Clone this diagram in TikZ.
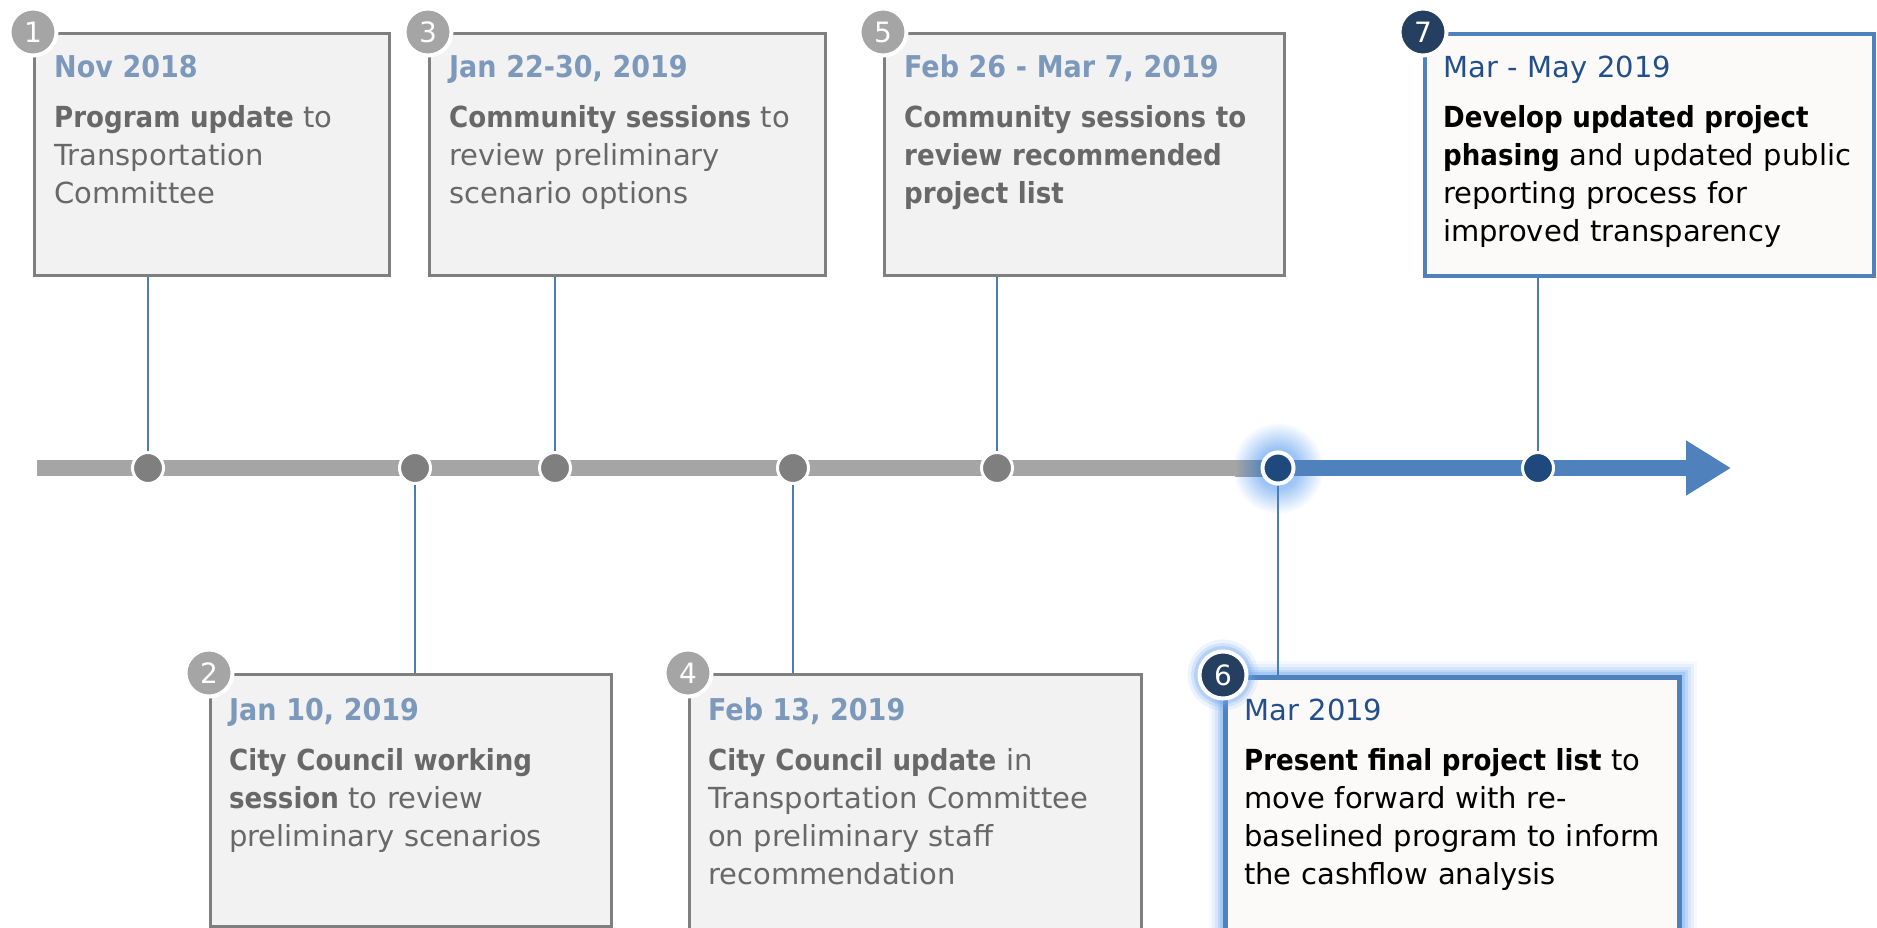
\documentclass[tikz,border=0pt]{standalone}
\usepackage{fontspec}
\setmainfont{DejaVu Sans}[BoldFont={DejaVu Sans Condensed Bold}]
\usetikzlibrary{arrows.meta}
\definecolor{tlgrey}{HTML}{A5A5A5}
\definecolor{dotgrey}{HTML}{7F7F7F}
\definecolor{boxfill}{HTML}{F2F2F2}
\definecolor{boxline}{HTML}{7F7F7F}
\definecolor{dategrey}{HTML}{7C98BB}
\definecolor{bodygrey}{HTML}{686868}
\definecolor{stemblue}{HTML}{4A7DBA}
\definecolor{tlblue}{HTML}{4F81BD}
\definecolor{dotnavy}{HTML}{1F497D}
\definecolor{badgenavy}{HTML}{243F60}
\definecolor{hotfill}{HTML}{FBFAF8}
\definecolor{glowblue}{HTML}{6FA8F0}
\definecolor{glowsoft}{HTML}{9CC4F5}
\definecolor{datenavy}{HTML}{23508C}
\newcommand{\greydate}[1]{{\fontsize{30}{38}\selectfont\bfseries\color{dategrey}#1}}
\newcommand{\navydate}[1]{{\fontsize{29}{38}\selectfont\color{datenavy}#1}}
\pgfdeclareradialshading{dotglow}{\pgfpoint{0bp}{0bp}}{color(0bp)=(glowsoft); color(11bp)=(glowsoft); color(25bp)=(white); color(50bp)=(white)}
\tikzset{
  evbox/.style={rectangle, anchor=north west, inner sep=0pt, fill=boxfill, draw=boxline, line width=3pt},
  newbox/.style={evbox, fill=hotfill, draw=tlblue, line width=3.5pt},
  hotbox/.style={newbox, line width=5pt,
    preaction={draw=glowblue, line width=34pt, draw opacity=.06},
    preaction={draw=glowblue, line width=28pt, draw opacity=.1},
    preaction={draw=glowblue, line width=22pt, draw opacity=.15},
    preaction={draw=glowblue, line width=16pt, draw opacity=.22},
    preaction={draw=glowblue, line width=11pt, draw opacity=.3}},
  badge/.style={circle, minimum size=47pt, inner sep=0pt, draw=white, line width=4pt, fill=tlgrey,
    text=white, font=\fontsize{28}{28}\selectfont},
  tick/.style={circle, minimum size=31pt, inner sep=0pt, draw=white, line width=3pt, fill=dotgrey},
  stem/.style={draw=stemblue, line width=2pt},
  evtext/.style={anchor=base west, inner sep=0pt, align=left, text=bodygrey, text width=500pt,
    font=\fontsize{29}{38}\selectfont}
}
\begin{document}
\begin{tikzpicture}[x=1pt, y=-1pt]
\useasboundingbox[fill=white] (0,0) rectangle (1877,927);
% timeline
\coordinate (tl0) at (37,468);
\coordinate (tl1) at (1245,468);
\coordinate (tl2) at (1731,468);
\coordinate (p6) at (1278,468);
\shade[shading=dotglow] (p6) circle (46);
\draw[line width=16pt, tlgrey] (tl0) -- (tl1);
\shade[left color=tlgrey, right color=tlblue] (1235,460) rectangle (1266,476);
\draw[line width=16pt, tlblue, -{Triangle[length=45pt,width=52pt]}] (1262,468) -- (tl2);
% boxes
\node[evbox, minimum width=355pt, minimum height=242pt] (b1) at (33,32) {};
\node[evbox, minimum width=396pt, minimum height=242pt] (b3) at (428,32) {};
\node[evbox, minimum width=400pt, minimum height=242pt] (b5) at (883,32) {};
\node[newbox, minimum width=449pt, minimum height=242pt] (b7) at (1423,32) {};
\node[evbox, minimum width=401pt, minimum height=252pt] (b2) at (209,673) {};
\node[evbox, minimum width=452pt, minimum height=262pt] (b4) at (688,673) {};
\node[hotbox, minimum width=454pt, minimum height=280pt] (b6) at (1223,675) {};
% dots
\node[tick] (d1) at (148,468) {};
\node[tick] (d2) at (415,468) {};
\node[tick] (d3) at (555,468) {};
\node[tick] (d4) at (793,468) {};
\node[tick] (d5) at (997,468) {};
\node[tick, fill=dotnavy, line width=4pt] (d6) at (p6) {};
\node[tick, fill=dotnavy] (d7) at (1538,468) {};
% stems
\draw[stem] (d1.north) -- (d1 |- b1.south);
\draw[stem] (d3.north) -- (d3 |- b3.south);
\draw[stem] (d5.north) -- (d5 |- b5.south);
\draw[stem] (d7.north) -- (d7 |- b7.south);
\draw[stem] (d2.south) -- (d2 |- b2.north);
\draw[stem] (d4.south) -- (d4 |- b4.north);
\draw[stem, line width=1.5pt] (d6.south) -- (d6 |- b6.north);
% badges
\node[badge] (n1) at (b1.north west) {1};
\node[badge] (n2) at (b2.north west) {2};
\node[badge] (n3) at (b3.north west) {3};
\node[badge] (n4) at (b4.north west) {4};
\node[badge] (n5) at (b5.north west) {5};
\node[badge, fill=badgenavy, preaction={draw=glowblue, line width=24pt, draw opacity=.12},
  preaction={draw=glowblue, line width=17pt, draw opacity=.2},
  preaction={draw=glowblue, line width=11pt, draw opacity=.3}] (n6) at (b6.north west) {6};
\node[badge, fill=badgenavy] (n7) at (b7.north west) {7};
% texts
\node[evtext] (t1) at ([shift={(21,45)}]b1.north west)
  {\greydate{Nov 2018}\\[12pt]\textbf{Program update} to\\Transportation\\Committee};
\node[evtext] (t3) at ([shift={(21,45)}]b3.north west)
  {\greydate{Jan 22-30, 2019}\\[12pt]\textbf{Community sessions} to\\review preliminary\\scenario options};
\node[evtext] (t5) at ([shift={(21,45)}]b5.north west)
  {\greydate{Feb 26 - Mar 7, 2019}\\[12pt]\textbf{Community sessions to}\\\textbf{review recommended}\\\textbf{project list}};
\node[evtext, text=black] (t7) at ([shift={(20,45)}]b7.north west)
  {\navydate{Mar - May 2019}\\[12pt]\textbf{Develop updated project}\\\textbf{phasing} and updated public\\reporting process for\\improved transparency};
\node[evtext] (t2) at ([shift={(20,47)}]b2.north west)
  {\greydate{Jan 10, 2019}\\[12pt]\textbf{City Council working}\\\textbf{session} to review\\preliminary scenarios};
\node[evtext] (t4) at ([shift={(20,47)}]b4.north west)
  {\greydate{Feb 13, 2019}\\[12pt]\textbf{City Council update} in\\Transportation Committee\\on preliminary staff\\recommendation};
\node[evtext, text=black] (t6) at ([shift={(21,45)}]b6.north west)
  {\navydate{Mar 2019}\\[12pt]\textbf{Present final project list} to\\move forward with re-\\baselined program to inform\\the cashflow analysis};
\end{tikzpicture}
\end{document}
